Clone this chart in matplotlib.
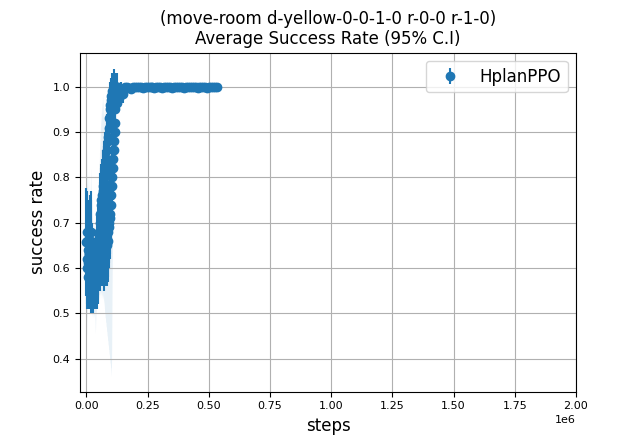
import numpy as np
import matplotlib
matplotlib.use("Agg")
import matplotlib.pyplot as plt

title = "(move-room d-yellow-0-0-1-0 r-0-0 r-1-0)\nAverage Success Rate (95% C.I)"
series_label = "HplanPPO"

# training steps (thousands)
steps_k = [
    0, 1, 2, 3, 4, 5, 6, 7, 8, 9,
    10, 11, 12, 13, 14, 15, 16, 17, 18, 19,
    20, 21, 22, 23, 24, 25, 26, 27, 28, 29,
    30, 31, 32, 33, 34, 35, 36, 37, 38, 39,
    40, 41, 42, 43, 44, 45, 46, 47, 48, 49,
    50, 51, 52, 53, 54, 55, 56, 57, 58, 59,
    60, 61, 62, 63, 64, 65, 66, 67, 68, 69,
    70, 71, 72, 73, 74, 75, 76, 77, 78, 79,
    80, 81, 82, 83, 84, 85, 86, 87, 88, 89,
    90, 91, 92, 93, 94, 95, 96, 97, 98, 99,
    100, 101, 102, 103, 104, 105, 106, 107, 108, 109,
    110, 111, 112, 113, 114, 115, 116, 117, 118, 119,
    120, 121, 122, 123, 124, 125, 126, 127, 128, 129,
    134, 142, 150, 158, 166, 174, 182, 190, 198, 206,
    214, 222, 230, 238, 246, 254, 262, 270, 278, 286,
    294, 302, 310, 318, 326, 334, 342, 350, 358, 366,
    374, 382, 390, 398, 406, 414, 422, 430, 438, 446,
    454, 462, 470, 478, 486, 494, 502, 510, 518, 526, 533]

success_mean = [
    0.657, 0.66, 0.60, 0.62, 0.68, 0.64, 0.58, 0.61, 0.66, 0.63,
    0.63, 0.58, 0.60, 0.65, 0.62, 0.68, 0.60, 0.57, 0.62, 0.66,
    0.68, 0.62, 0.60, 0.58, 0.61, 0.56, 0.59, 0.58, 0.60, 0.57,
    0.59, 0.56, 0.58, 0.60, 0.57, 0.59, 0.56, 0.58, 0.61, 0.59,
    0.57, 0.60, 0.62, 0.58, 0.64, 0.60, 0.63, 0.59, 0.66, 0.62,
    0.66, 0.62, 0.68, 0.64, 0.70, 0.63, 0.72, 0.65, 0.74, 0.64,
    0.75, 0.66, 0.76, 0.64, 0.74, 0.67, 0.78, 0.65, 0.77, 0.66,
    0.79, 0.64, 0.80, 0.67, 0.78, 0.65, 0.81, 0.68, 0.82, 0.66,
    0.83, 0.68, 0.82, 0.65, 0.84, 0.69, 0.86, 0.66, 0.88, 0.68,
    0.89, 0.70, 0.91, 0.69, 0.93, 0.71, 0.95, 0.72, 0.96, 0.74,
    0.97, 0.76, 0.98, 0.78, 0.97, 0.80, 0.99, 0.82, 0.98, 0.84,
    0.99, 0.86, 1.0, 0.88, 0.99, 0.90, 1.0, 0.92, 0.99, 0.95,
    1.0, 0.97, 0.99, 0.98, 1.0, 0.965, 0.995, 0.99, 1.0, 0.995,
    0.975, 0.99, 0.985, 1.0, 1.0, 0.998, 0.996, 1.0, 1.0, 1.0,
    1.0, 1.0, 0.998, 1.0, 1.0, 1.0, 1.0, 1.0, 0.997, 1.0,
    1.0, 1.0, 0.998, 1.0, 1.0, 1.0, 1.0, 0.998, 1.0, 1.0,
    1.0, 1.0, 1.0, 0.998, 1.0, 1.0, 1.0, 1.0, 1.0, 1.0,
    0.998, 1.0, 1.0, 1.0, 1.0, 0.998, 1.0, 1.0, 1.0, 1.0, 1.0]

ci95 = [
    0.12, 0.11, 0.09, 0.10, 0.08, 0.10, 0.07, 0.08, 0.09, 0.10,
    0.08, 0.07, 0.08, 0.09, 0.07, 0.08, 0.06, 0.07, 0.08, 0.09,
    0.09, 0.08, 0.07, 0.06, 0.07, 0.06, 0.07, 0.06, 0.06, 0.07,
    0.06, 0.05, 0.07, 0.06, 0.06, 0.07, 0.05, 0.06, 0.07, 0.06,
    0.06, 0.07, 0.06, 0.07, 0.08, 0.07, 0.08, 0.07, 0.08, 0.08,
    0.08, 0.07, 0.08, 0.08, 0.09, 0.08, 0.09, 0.08, 0.08, 0.08,
    0.08, 0.09, 0.08, 0.08, 0.09, 0.09, 0.08, 0.09, 0.09, 0.10,
    0.08, 0.09, 0.08, 0.10, 0.09, 0.09, 0.08, 0.10, 0.08, 0.10,
    0.08, 0.10, 0.09, 0.09, 0.08, 0.10, 0.08, 0.09, 0.07, 0.10,
    0.07, 0.09, 0.06, 0.09, 0.05, 0.09, 0.05, 0.09, 0.05, 0.08,
    0.04, 0.08, 0.04, 0.08, 0.05, 0.07, 0.04, 0.07, 0.05, 0.07,
    0.03, 0.06, 0.04, 0.06, 0.04, 0.05, 0.03, 0.05, 0.04, 0.04,
    0.03, 0.03, 0.04, 0.02, 0.03, 0.02, 0.01, 0.02, 0.005, 0.01,
    0.01, 0.02, 0.02, 0.0, 0.0, 0.003, 0.004, 0.0, 0.0, 0.0,
    0.0, 0.0, 0.003, 0.0, 0.0, 0.0, 0.0, 0.0, 0.003, 0.0,
    0.0, 0.0, 0.003, 0.0, 0.0, 0.0, 0.0, 0.003, 0.0, 0.0,
    0.0, 0.0, 0.0, 0.003, 0.0, 0.0, 0.0, 0.0, 0.0, 0.0,
    0.003, 0.0, 0.0, 0.0, 0.0, 0.003, 0.0, 0.0, 0.0, 0.0, 0.0]

band_lo = [
    0.46, 0.45, 0.50, 0.48, 0.52, 0.50, 0.53, 0.52, 0.54, 0.55,
    0.54, 0.52, 0.53, 0.54, 0.52, 0.55, 0.52, 0.50, 0.52, 0.54,
    0.55, 0.52, 0.51, 0.50, 0.50, 0.49, 0.50, 0.50, 0.51, 0.49,
    0.50, 0.49, 0.50, 0.51, 0.50, 0.50, 0.47, 0.455, 0.48, 0.50,
    0.50, 0.51, 0.52, 0.51, 0.53, 0.52, 0.53, 0.52, 0.54, 0.53,
    0.54, 0.52, 0.54, 0.53, 0.55, 0.53, 0.55, 0.54, 0.55, 0.53,
    0.55, 0.54, 0.55, 0.53, 0.54, 0.54, 0.55, 0.53, 0.54, 0.53,
    0.54, 0.52, 0.53, 0.52, 0.51, 0.50, 0.50, 0.49, 0.49, 0.48,
    0.48, 0.47, 0.47, 0.46, 0.46, 0.45, 0.45, 0.44, 0.44, 0.43,
    0.43, 0.42, 0.42, 0.41, 0.41, 0.40, 0.40, 0.39, 0.39, 0.38,
    0.38, 0.37, 0.36, 0.40, 0.48, 0.56, 0.62, 0.68, 0.72, 0.76,
    0.80, 0.82, 0.85, 0.86, 0.88, 0.90, 0.92, 0.93, 0.95, 0.95,
    0.97, 0.96, 0.975, 0.97, 0.96, 0.95, 0.93, 0.97, 0.985, 0.98,
    0.965, 0.97, 0.965, 1.0, 1.0, 0.995, 0.992, 1.0, 1.0, 1.0,
    1.0, 1.0, 0.995, 1.0, 1.0, 1.0, 1.0, 1.0, 0.994, 1.0,
    1.0, 1.0, 0.995, 1.0, 1.0, 1.0, 1.0, 0.995, 1.0, 1.0,
    1.0, 1.0, 1.0, 0.995, 1.0, 1.0, 1.0, 1.0, 1.0, 1.0,
    0.995, 1.0, 1.0, 1.0, 1.0, 0.995, 1.0, 1.0, 1.0, 1.0, 1.0]

band_hi = [
    0.84, 0.86, 0.82, 0.80, 0.78, 0.80, 0.76, 0.74, 0.80, 0.82,
    0.76, 0.72, 0.74, 0.78, 0.73, 0.80, 0.72, 0.70, 0.74, 0.80,
    0.82, 0.76, 0.72, 0.70, 0.72, 0.68, 0.70, 0.68, 0.70, 0.68,
    0.68, 0.66, 0.69, 0.70, 0.68, 0.70, 0.66, 0.68, 0.71, 0.69,
    0.68, 0.70, 0.72, 0.70, 0.74, 0.72, 0.75, 0.72, 0.78, 0.76,
    0.80, 0.78, 0.84, 0.82, 0.88, 0.85, 0.91, 0.88, 0.93, 0.90,
    0.95, 0.92, 0.96, 0.93, 0.97, 0.94, 0.986, 0.95, 0.98, 0.93,
    0.95, 0.92, 0.96, 0.93, 0.95, 0.92, 0.97, 0.94, 0.98, 0.95,
    0.98, 0.96, 0.99, 0.97, 0.99, 0.98, 1.0, 0.98, 1.0, 0.99,
    1.0, 1.0, 1.0, 1.0, 1.0, 1.0, 1.0, 1.0, 1.0, 1.0,
    1.0, 1.0, 1.0, 1.0, 1.0, 1.0, 1.0, 1.0, 1.0, 1.0,
    1.0, 1.0, 1.0, 1.0, 1.0, 1.0, 1.0, 1.0, 1.0, 1.0,
    1.0, 1.0, 1.0, 1.0, 1.0, 1.0, 1.0, 1.0, 1.0, 1.0,
    1.0, 1.0, 1.0, 1.0, 1.0, 1.0, 1.0, 1.0, 1.0, 1.0,
    1.0, 1.0, 1.0, 1.0, 1.0, 1.0, 1.0, 1.0, 1.0, 1.0,
    1.0, 1.0, 1.0, 1.0, 1.0, 1.0, 1.0, 1.0, 1.0, 1.0,
    1.0, 1.0, 1.0, 1.0, 1.0, 1.0, 1.0, 1.0, 1.0, 1.0,
    1.0, 1.0, 1.0, 1.0, 1.0, 1.0, 1.0, 1.0, 1.0, 1.0, 1.0]

n = len(steps_k)
assert all(len(a) == n for a in (success_mean, ci95, band_lo, band_hi)), \
    [len(a) for a in (steps_k, success_mean, ci95, band_lo, band_hi)]

steps = np.array(steps_k) * 1000

fig, ax = plt.subplots(figsize=(6.4, 4.4), dpi=100)
ax.fill_between(steps, band_lo, band_hi, color="C0", alpha=0.1, linewidth=0)
ax.errorbar(steps, success_mean, yerr=ci95, fmt="o", color="C0", label=series_label)
ax.set_xlim(-26000, 2000000)
ax.set_ylim(0.327, 1.075)
ax.grid(True)
ax.tick_params(labelsize=8)
ax.xaxis.get_offset_text().set_fontsize(8)
ax.set_xlabel("steps", fontsize=12)
ax.set_ylabel("success rate", fontsize=12)
ax.set_title(title, fontsize=12)
ax.legend(loc="upper right", fontsize=12)
fig.savefig("out.png", dpi=100)
